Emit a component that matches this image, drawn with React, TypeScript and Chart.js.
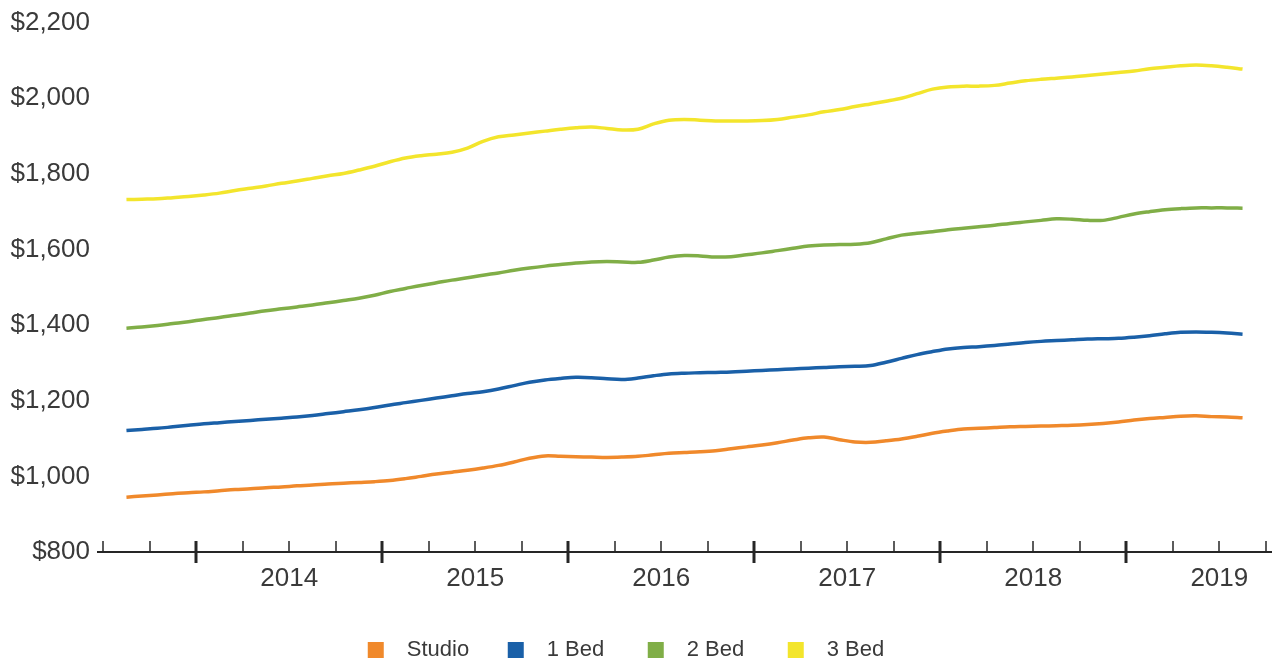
import React, { useEffect, useRef } from "react";
import { Chart, registerables } from "chart.js";

Chart.register(...registerables);

// Monthly averages, first point = Aug 2013, last = Aug 2019
const seriesNames = ["Studio", "1 Bed", "2 Bed", "3 Bed"];
const seriesColors = ["#F0892B", "#1A60A8", "#80AE47", "#F3E52C"];
const yearLabels = ["2014", "2015", "2016", "2017", "2018", "2019"];
const yTicks = [800, 1000, 1200, 1400, 1600, 1800, 2000, 2200];

const studio = [
  945, 948, 951, 954, 957, 959, 962, 965, 967, 970, 972, 975, 977, 980, 982, 984, 986, 989, 994, 1000,
  1006, 1011, 1016, 1022, 1029, 1038, 1048, 1054, 1053, 1052, 1051, 1050, 1051, 1053, 1057, 1061, 1063, 1065, 1068, 1073,
  1078, 1083, 1089, 1096, 1102, 1104, 1097, 1091, 1090, 1094, 1099, 1106, 1114, 1120, 1125, 1127, 1129, 1131, 1132, 1133,
  1134, 1135, 1137, 1140, 1144, 1149, 1153, 1156, 1159, 1160, 1158, 1157, 1155,
];
const oneBed = [
  1121, 1124, 1127, 1131, 1135, 1139, 1142, 1145, 1148, 1151, 1154, 1157, 1161, 1166, 1171, 1176, 1182, 1189, 1195, 1201,
  1207, 1213, 1219, 1224, 1231, 1240, 1249, 1255, 1259, 1262, 1261, 1258, 1256, 1260, 1266, 1271, 1273, 1274, 1275, 1276,
  1278, 1280, 1282, 1284, 1286, 1288, 1290, 1291, 1293, 1302, 1312, 1322, 1330, 1337, 1341, 1343, 1346, 1350, 1354, 1357,
  1359, 1361, 1363, 1364, 1365, 1368, 1372, 1377, 1381, 1382, 1381, 1379, 1376,
];
const twoBed = [
  1392, 1395, 1399, 1404, 1409, 1415, 1420, 1426, 1432, 1438, 1443, 1448, 1453, 1459, 1465, 1471, 1479, 1489, 1497, 1505,
  1512, 1519, 1525, 1532, 1538, 1545, 1551, 1556, 1560, 1564, 1567, 1568, 1567, 1566, 1572, 1580, 1584, 1583, 1580, 1581,
  1586, 1591, 1597, 1603, 1609, 1612, 1613, 1614, 1618, 1628, 1638, 1643, 1647, 1652, 1656, 1660, 1664, 1669, 1673, 1677,
  1681, 1680, 1677, 1677, 1685, 1694, 1700, 1705, 1708, 1710, 1710, 1710, 1709,
];
const threeBed = [
  1732, 1733, 1734, 1737, 1740, 1744, 1749, 1756, 1762, 1768, 1775, 1781, 1788, 1795, 1801, 1810, 1820, 1832, 1842, 1848,
  1852, 1857, 1868, 1886, 1898, 1903, 1908, 1913, 1918, 1922, 1924, 1920, 1916, 1918, 1932, 1942, 1944, 1942, 1940, 1940,
  1940, 1941, 1944, 1950, 1956, 1964, 1970, 1978, 1985, 1992, 2000, 2012, 2024, 2030, 2032, 2032, 2034, 2040, 2046, 2050,
  2053, 2056, 2060, 2064, 2068, 2072, 2078, 2082, 2086, 2088, 2086, 2082, 2077,
];
const seriesValues = [studio, oneBed, twoBed, threeBed];

// x axis is measured in months from Jan 2014; points sit mid-month
const FIRST_POINT_MONTH = -4.5; // Aug 2013
const X_MIN = -6.4;
const X_MAX = 69.4;
const QUARTER_TICK_START = -6;
const QUARTER_TICK_END = 69;

const FONT = '"Liberation Sans", Arial, Helvetica, sans-serif';

const axisMarksPlugin = {
  id: "axisMarks",
  afterDraw(chart: any) {
    const { ctx, chartArea, scales } = chart;
    const x = scales.x;
    const y0 = chartArea.bottom;
    ctx.save();
    ctx.strokeStyle = "#262626";
    ctx.lineWidth = 2;
    ctx.beginPath();
    ctx.moveTo(chartArea.left, y0);
    ctx.lineTo(chartArea.right, y0);
    ctx.stroke();
    for (let m = QUARTER_TICK_START; m <= QUARTER_TICK_END; m += 3) {
      const px = Math.round(x.getPixelForValue(m));
      const major = Math.abs(m % 12) === 0;
      ctx.lineWidth = major ? 3 : 1.5;
      ctx.beginPath();
      ctx.moveTo(px, y0 - 11);
      ctx.lineTo(px, major ? y0 + 11 : y0);
      ctx.stroke();
    }
    ctx.restore();
  },
};

const LEGEND_CENTER_X = 626;
const LEGEND_Y = 650;
const LEGEND_STRIDE = 140;
const LEGEND_BOX = 16;
const LEGEND_GAP = 23;

const bottomLegendPlugin = {
  id: "bottomLegend",
  afterDraw(chart: any) {
    const { ctx } = chart;
    ctx.save();
    ctx.font = `22px ${FONT}`;
    const n = seriesNames.length;
    const lastW = LEGEND_BOX + LEGEND_GAP + ctx.measureText(seriesNames[n - 1]).width;
    const total = (n - 1) * LEGEND_STRIDE + lastW;
    let x = LEGEND_CENTER_X - total / 2;
    for (let i = 0; i < n; i++) {
      ctx.fillStyle = seriesColors[i];
      ctx.fillRect(x, LEGEND_Y - LEGEND_BOX / 2, LEGEND_BOX, LEGEND_BOX);
      ctx.fillStyle = "#3a3a3a";
      ctx.textBaseline = "middle";
      ctx.textAlign = "left";
      ctx.fillText(seriesNames[i], x + LEGEND_BOX + LEGEND_GAP, LEGEND_Y);
      x += LEGEND_STRIDE;
    }
    ctx.restore();
  },
};

export default function App() {
  const canvasRef = useRef<HTMLCanvasElement | null>(null);

  useEffect(() => {
    if (!canvasRef.current) return;
    const datasets = seriesValues.map((vals, si) => ({
      label: seriesNames[si],
      data: vals.map((v, i) => ({ x: FIRST_POINT_MONTH + i, y: v })),
      borderColor: seriesColors[si],
      backgroundColor: seriesColors[si],
      borderWidth: 3.5,
      pointRadius: 0,
      tension: 0.35,
      fill: false,
    }));

    const chart = new Chart(canvasRef.current, {
      type: "line",
      data: { datasets },
      plugins: [axisMarksPlugin, bottomLegendPlugin],
      options: {
        animation: false,
        responsive: true,
        maintainAspectRatio: false,
        layout: { padding: { top: 20, right: 4, left: 0, bottom: 0 } },
        plugins: {
          legend: { display: false },
          tooltip: { enabled: false },
        },
        scales: {
          x: {
            type: "linear",
            min: X_MIN,
            max: X_MAX,
            grid: { display: false, drawTicks: false },
            border: { display: false },
            afterBuildTicks: (scale: any) => {
              scale.ticks = yearLabels.map((_, k) => ({ value: 6 + 12 * k }));
            },
            afterFit: (scale: any) => {
              scale.height = 111;
            },
            ticks: {
              autoSkip: false,
              maxRotation: 0,
              padding: 11,
              color: "#3a3a3a",
              font: { family: FONT, size: 26 },
              callback: (value: any) => {
                const k = Math.round((Number(value) - 6) / 12);
                return yearLabels[k] ?? "";
              },
            },
          },
          y: {
            type: "linear",
            min: 800,
            max: 2200,
            grid: { display: false, drawTicks: false },
            border: { display: false },
            afterBuildTicks: (scale: any) => {
              scale.ticks = yTicks.map((v) => ({ value: v }));
            },
            afterFit: (scale: any) => {
              scale.width = 97;
            },
            ticks: {
              padding: 7,
              color: "#3a3a3a",
              font: { family: FONT, size: 26 },
              callback: (value: any) => "$" + Number(value).toLocaleString("en-US"),
            },
          },
        },
      },
    });
    return () => chart.destroy();
  }, []);

  return (
    <div style={{ position: "absolute", left: 0, top: 0, width: 1276, height: 663, background: "#fff" }}>
      <canvas ref={canvasRef} />
    </div>
  );
}
